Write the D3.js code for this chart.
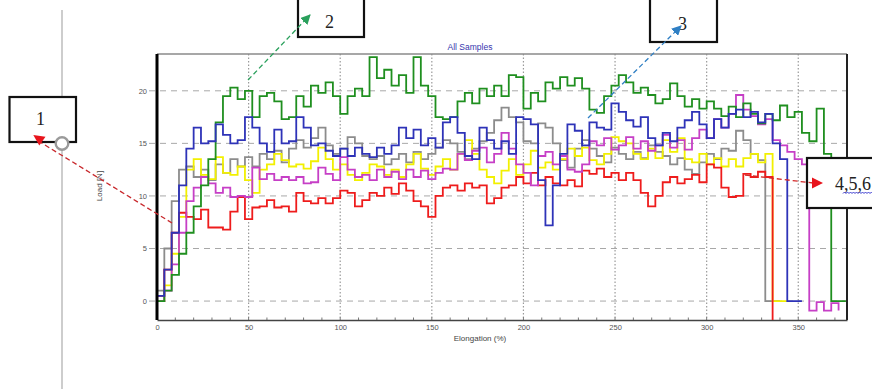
<!DOCTYPE html>
<html>
<head>
<meta charset="utf-8">
<script src="https://cdn.jsdelivr.net/npm/d3@7"></script>
<style>
  body { margin: 0; background: #fff; }
  svg { display: block; }
</style>
</head>
<body>
<svg id="chart" width="872" height="389"></svg>
<script>
// Elongation sampling grid (%), one reading every 4 %
const elongation = d3.range(0, 377, 4);

// Load readings [N] for each sample, aligned with the elongation grid
const green = [0, 1, 2.5, 4.5, 6.5, 9, 11, 13.5, 17, 19.5, 20.3, 19.2, 20, 17.5, 19.5, 19.8, 19, 17.3, 17.5, 19.5,
  18.5, 20.5, 19.8, 20.8, 19.5, 17.8, 19.5, 20.2, 19.5, 23.2, 21.2, 22, 20.5, 21.5, 19.8, 23.2, 20.5, 19.5, 17.5, 17.3,
  17.5, 19, 19.8, 18.8, 20.2, 19.5, 20.5, 19.5, 21.5, 21.3, 18.3, 19.8, 19, 20.8, 20.2, 21.3, 20.5, 21.2, 20.2, 18.2,
  17.9, 19.5, 20.5, 21.5, 20.8, 19.8, 20.3, 19.6, 18.8, 19.2, 20.7, 19.5, 18.5, 19.2, 18.3, 19, 18.3, 17.6, 18.5, 17.5,
  18.8, 17.8, 16.9, 17.8, 17.2, 18.6, 17.5, 18, 16, 15.2, 18.3, 14, 0, 0, 0];

const blue = [0.5, 3, 6.5, 11, 14.5, 16.5, 15, 15.2, 16.8, 15.8, 15, 15.3, 17.5, 16.5, 15, 14.2, 16.3, 15, 15.2, 17.5,
  16.5, 14.8, 15, 14.3, 13.8, 14.5, 13.8, 14.6, 14, 13.7, 14.6, 14, 14.8, 16.5, 15.5, 16.3, 14.8, 15.5, 14.6, 17,
  17.5, 16, 13.8, 13.5, 16.5, 15.3, 14.5, 15.2, 14, 17.5, 17.3, 16.8, 11.5, 7.2, 11, 14, 16.8, 16.2, 14.8, 17,
  16.5, 16.3, 18.8, 18, 17.2, 16.6, 17.5, 15.5, 14.8, 16, 15.2, 16.5, 17.2, 18, 16.8, 15.5, 17.3, 16.5, 17.8, 18.2,
  17.5, 18, 17, 17.8, 15, 13.5, 0, 0, 0];

const gray = [1, 5, 9.5, 12.5, 12.8, 11.8, 12.5, 11.5, 13, 12.2, 13.5, 12.8, 13.7, 12.8, 14, 13.5, 14.3, 13.2, 14.5, 15.3,
  14.6, 15.5, 16.5, 14.8, 14, 14.5, 15.6, 15, 13.8, 13.5, 13.8, 13, 13.5, 14, 13.2, 14.2, 13.5, 14, 14.6, 15.3,
  15, 14.2, 13.5, 14.5, 15.2, 16, 17.2, 18.4, 17.5, 17, 15.2, 15, 16.9, 16.5, 15, 13.4, 12.7, 14.5, 15.3, 14.5,
  13.8, 13.2, 14.6, 14, 13.5, 14.2, 13.6, 14.8, 14.2, 13.8, 13, 13.6, 12.5, 12.1, 13.2, 14, 13.5, 14.5, 14.3, 16.2,
  15.3, 14, 13.4, 0, 0, 0];

const yellow = [0, 1.5, 4.5, 8, 12.5, 13.5, 12, 11.6, 13.7, 12.2, 12, 12.8, 11.5, 10.3, 12.5, 13, 14, 13.4, 12.8, 13,
  12.6, 13.3, 14.6, 13.5, 12.5, 13, 12, 11.5, 12.2, 13, 12.8, 12, 12.5, 11.8, 13, 14, 12.6, 12, 12.8, 13.5,
  12.5, 14, 15.3, 14, 12.5, 11.8, 11.2, 12.4, 13.5, 12, 13, 14.3, 12.7, 13.2, 12.5, 13.5, 14.5, 13.8, 14.6, 13.4,
  13, 14, 15.6, 15.2, 15, 14, 13.5, 14.5, 13.6, 15.3, 14.2, 15.5, 13.5, 13.2, 14, 13, 13.6, 12.8, 13.5, 12.8,
  13.6, 14, 13.2, 14, 0, 0, 0];

const magenta = [0, 1, 3.5, 6.5, 9.5, 10.8, 11.8, 11.2, 10.3, 10.8, 9.9, 10, 9.9, 12.7, 11.6, 12.1, 11.5, 11.8, 11.5, 11.8,
  11.2, 11.3, 12.7, 12.1, 11.5, 13.7, 12.5, 11.8, 12, 11.5, 12.5, 11.8, 12.3, 11.6, 12.5, 11.8, 12.4, 11.6, 12.2, 12.6,
  12.5, 14, 13.4, 14.3, 14.6, 13.2, 14, 16, 14.5, 13, 12.2, 11, 13.8, 14.2, 13, 13.8, 12.5, 12.3, 13, 15.2,
  14.8, 15.5, 14.4, 14.8, 15.6, 14.5, 15.2, 14.3, 14.8, 15.8, 14.6, 15.3, 14.4, 15.5, 16.3, 15.5, 17.3, 16.5, 17.8, 19.6,
  18.2, 17.6, 16.8, 17.3, 15.3, 14.8, 14.2, 13.5, 13, -0.9, -0.1, -0.9, -0.2, -0.9];

const red = [0.5, 3, 6.5, 8.4, 8, 7.8, 8.7, 7, 7, 6.8, 8.5, 9.9, 7.8, 8.9, 9, 9.6, 8.9, 9, 8.5, 10.3,
  9.5, 9.3, 9.8, 9.3, 9.8, 10.5, 10.3, 9, 9.6, 10.3, 10, 10.8, 10.2, 11.2, 10.5, 9.5, 9, 8, 10, 10.8,
  11, 10.5, 11.2, 10.8, 11, 9.3, 9.8, 10.8, 11, 11.8, 11.2, 12.2, 11, 11.8, 11.2, 11, 11.5, 10.9, 12.4, 12.1,
  12.6, 11.8, 12.2, 11.5, 12.2, 11.5, 10.3, 9, 10, 11.3, 11.8, 11.2, 11.6, 12, 11.3, 13, 12.7, 10.8, 9.9, 10,
  12.1, 11.8, 12.3, 11.8, -1.8];

const xTicks = [0, 50, 100, 150, 200, 250, 300, 350];
const yTicks = [0, 5, 10, 15, 20];

// Drawing order: later series sit on top
const series = [
  { name: "gray", values: gray, color: "#8c8c8c" },
  { name: "yellow", values: yellow, color: "#f2f000" },
  { name: "red", values: red, color: "#ee1c1c" },
  { name: "magenta", values: magenta, color: "#c63fc6" },
  { name: "green", values: green, color: "#1f8f1f" },
  { name: "blue", values: blue, color: "#2e33b8" }
];

const svg = d3.select("#chart");
const x = d3.scaleLinear().domain([0, 376.6]).range([157, 847]);
const y = d3.scaleLinear().domain([-1.8, 23.5]).range([320, 54]);
const plotTop = y.range()[1], plotBottom = y.range()[0];
const plotLeft = x.range()[0], plotRight = x.range()[1];

const font = "'Liberation Sans', Arial, sans-serif";
const serif = "'Liberation Serif', 'Times New Roman', serif";

// Horizontal dashed grid
svg.append("g").selectAll("line").data(yTicks).join("line")
  .attr("x1", plotLeft - 8).attr("x2", plotRight)
  .attr("y1", d => y(d)).attr("y2", d => y(d))
  .attr("stroke", "#a8a8a8").attr("stroke-width", 1)
  .attr("stroke-dasharray", "6,5");

// Vertical dotted grid
svg.append("g").selectAll("line").data(xTicks.filter(d => d > 0)).join("line")
  .attr("x1", d => x(d)).attr("x2", d => x(d))
  .attr("y1", plotTop).attr("y2", plotBottom)
  .attr("stroke", "#9a9a9a").attr("stroke-width", 1.2)
  .attr("stroke-dasharray", "1.5,2");

// Frame: top and right borders
svg.append("line").attr("x1", plotLeft).attr("x2", plotRight).attr("y1", plotTop).attr("y2", plotTop)
  .attr("stroke", "#8a8a8a").attr("stroke-width", 1.5);
svg.append("line").attr("x1", plotRight).attr("x2", plotRight).attr("y1", plotTop).attr("y2", plotBottom)
  .attr("stroke", "#222").attr("stroke-width", 2);

// Bottom axis with labels
const xAxis = svg.append("g").attr("transform", `translate(0,${plotBottom})`)
  .call(d3.axisBottom(x).tickValues(xTicks).tickSize(0).tickPadding(5));
xAxis.select(".domain").attr("stroke", "#444").attr("stroke-width", 1.5);
xAxis.selectAll("text").attr("font-family", font).attr("font-size", 7.5).attr("fill", "#555");

// Minor ticks on the bottom axis
svg.append("g").selectAll("line").data(d3.range(0, 376, 10)).join("line")
  .attr("x1", d => x(d)).attr("x2", d => x(d))
  .attr("y1", plotBottom).attr("y2", plotBottom - 2.5)
  .attr("stroke", "#555").attr("stroke-width", 0.8);

// Left axis labels
const yAxis = svg.append("g").attr("transform", `translate(${plotLeft},0)`)
  .call(d3.axisLeft(y).tickValues(yTicks).tickSize(0).tickPadding(10));
yAxis.select(".domain").remove();
yAxis.selectAll("text").attr("font-family", font).attr("font-size", 7.5).attr("fill", "#555");

// Curves
const line = d3.line()
  .x((d, i) => x(elongation[i]))
  .y(d => y(d))
  .curve(d3.curveStepAfter);

svg.append("g").selectAll("path").data(series).join("path")
  .attr("d", s => line(s.values))
  .attr("fill", "none")
  .attr("stroke", s => s.color)
  .attr("stroke-width", 1.8)
  .attr("stroke-linejoin", "miter");

// Thick left axis line
svg.append("line").attr("x1", plotLeft).attr("x2", plotLeft).attr("y1", plotTop).attr("y2", plotBottom)
  .attr("stroke", "#000").attr("stroke-width", 3);

// Titles
svg.append("text").attr("x", 470).attr("y", 49.5).attr("text-anchor", "middle")
  .attr("font-family", font).attr("font-size", 8.5).attr("fill", "#3636ad")
  .text("All Samples");
svg.append("text").attr("x", 480).attr("y", 341).attr("text-anchor", "middle")
  .attr("font-family", font).attr("font-size", 8).attr("fill", "#444")
  .text("Elongation (%)");
svg.append("text").attr("transform", "translate(102,186) rotate(-90)").attr("text-anchor", "middle")
  .attr("font-family", font).attr("font-size", 8).attr("fill", "#444")
  .text("Load [N]");

// Annotation arrowheads
const defs = svg.append("defs");
function arrowMarker(id, color) {
  defs.append("marker").attr("id", id)
    .attr("viewBox", "0 0 10 10").attr("refX", 9).attr("refY", 5)
    .attr("markerUnits", "userSpaceOnUse").attr("markerWidth", 10).attr("markerHeight", 10)
    .attr("orient", "auto")
    .append("path").attr("d", "M0,0 L10,5 L0,10 Z").attr("fill", color);
}
arrowMarker("arrow-green", "#2aa05c");
arrowMarker("arrow-blue", "#2f7fc4");

// Vertical guide for callout 1
svg.append("line").attr("x1", 62).attr("x2", 62).attr("y1", 10).attr("y2", 389)
  .attr("stroke", "#bdbdbd").attr("stroke-width", 1.5);

// Callout boxes
function box(x0, y0, w, h) {
  svg.append("rect").attr("x", x0).attr("y", y0).attr("width", w).attr("height", h)
    .attr("fill", "#fff").attr("stroke", "#111").attr("stroke-width", 2.2);
}
function label(tx, ty, txt) {
  svg.append("text").attr("x", tx).attr("y", ty).attr("font-family", serif)
    .attr("font-size", 18).attr("fill", "#222").text(txt);
}

box(9.5, 97, 66.5, 45);
label(36, 125, "1");
box(298, -5, 66, 42);
label(325, 28, "2");
box(650, -5, 67, 47);
label(678, 30, "3");
box(807, 158, 80, 50);
label(835, 190, "4,5,6");

// Squiggly underline under "4,5,6"
const squiggle = d3.path();
squiggle.moveTo(843, 193.5);
for (let sx = 843; sx < 872; sx += 3) {
  squiggle.lineTo(sx + 1.5, 192);
  squiggle.lineTo(sx + 3, 193.5);
}
svg.append("path").attr("d", squiggle.toString()).attr("fill", "none")
  .attr("stroke", "#3a3ad0").attr("stroke-width", 1);

// Callout 1: red dashed leader to the rising curves
svg.append("line").attr("x1", 172).attr("y1", 223).attr("x2", 40).attr("y2", 142)
  .attr("stroke", "#c8282c").attr("stroke-width", 1.3).attr("stroke-dasharray", "5,3");
svg.append("polygon").attr("points", "33.3,135 45.5,136.7 39.3,145.5").attr("fill", "#e8141c");
svg.append("circle").attr("cx", 62).attr("cy", 143.5).attr("r", 6.3)
  .attr("fill", "#fff").attr("stroke", "#9a9a9a").attr("stroke-width", 2.4);

// Callout 2: green dashed arrow
svg.append("line").attr("x1", 248).attr("y1", 80).attr("x2", 310).attr("y2", 15)
  .attr("stroke", "#2aa05c").attr("stroke-width", 1.3).attr("stroke-dasharray", "5,3")
  .attr("marker-end", "url(#arrow-green)");

// Callout 3: blue dashed arrow
svg.append("line").attr("x1", 588).attr("y1", 118).attr("x2", 681).attr("y2", 26)
  .attr("stroke", "#2f7fc4").attr("stroke-width", 1.3).attr("stroke-dasharray", "5,3")
  .attr("marker-end", "url(#arrow-blue)");

// Callout 4,5,6: red dashed leader with arrowhead
svg.append("line").attr("x1", 745).attr("y1", 175).attr("x2", 813).attr("y2", 183)
  .attr("stroke", "#d42a2a").attr("stroke-width", 1.3).attr("stroke-dasharray", "5,3");
svg.append("polygon").attr("points", "812,177.5 823,183 812,188.5").attr("fill", "#e8141c");
</script>
</body>
</html>
